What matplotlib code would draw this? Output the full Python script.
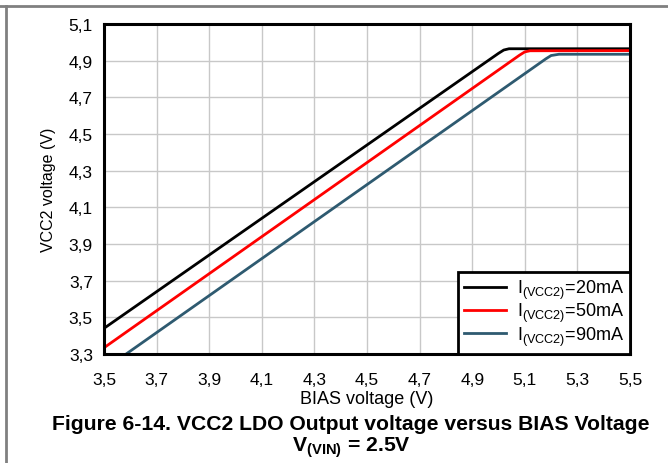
import matplotlib
matplotlib.use("Agg")
import matplotlib.pyplot as plt
from matplotlib.lines import Line2D

plt.rcParams['font.family'] = ['Liberation Sans', 'DejaVu Sans']
plt.rcParams['mathtext.fontset'] = 'custom'
plt.rcParams['mathtext.rm'] = 'Liberation Sans'
plt.rcParams['mathtext.it'] = 'Liberation Sans'
plt.rcParams['mathtext.bf'] = 'Liberation Sans:bold'

# Data
bias_20 = [3.5, 5.00, 5.02, 5.04, 5.5]
vcc2_20 = [3.44, 4.94, 4.958, 4.965, 4.965]
bias_50 = [3.5, 5.08, 5.10, 5.12, 5.5]
vcc2_50 = [3.334, 4.93, 4.948, 4.954, 4.955]
bias_90 = [3.5, 5.18, 5.20, 5.23, 5.5]
vcc2_90 = [3.215, 4.91, 4.928, 4.935, 4.935]
series_labels = [r'I$_{\rm (VCC2)}$=20mA', r'I$_{\rm (VCC2)}$=50mA', r'I$_{\rm (VCC2)}$=90mA']
colors = ['#000000', '#ff0000', '#2e5a70']
xticks = [3.5, 3.7, 3.9, 4.1, 4.3, 4.5, 4.7, 4.9, 5.1, 5.3, 5.5]
yticks = [3.3, 3.5, 3.7, 3.9, 4.1, 4.3, 4.5, 4.7, 4.9, 5.1]

fig = plt.figure(figsize=(6.68, 4.64), dpi=100)
ax = fig.add_axes([104/668, 1-355/464, (630-104)/668, (355-25)/464])

for bx, vy, c, lab in zip([bias_20, bias_50, bias_90], [vcc2_20, vcc2_50, vcc2_90], colors, series_labels):
    ax.plot(bx, vy, color=c, lw=2, label=lab, solid_joinstyle='round')

ax.set_xlim(3.5, 5.5)
ax.set_ylim(3.3, 5.1)
ax.set_xticks(xticks)
ax.set_yticks(yticks)
ax.set_xticklabels([f"{v:.1f}".replace('.', ',') for v in xticks], fontsize=12.5)
ax.set_yticklabels([f"{v:.1f}".replace('.', ',') for v in yticks], fontsize=12.5)
ax.tick_params(axis='x', length=0, pad=13)
ax.tick_params(axis='y', length=0, pad=8)
ax.grid(True, color='#c8c8c8', lw=1)
ax.set_axisbelow(True)
for s in ax.spines.values():
    s.set_linewidth(2.2)
    s.set_color('black')

ax.set_xlabel('BIAS voltage (V)', fontsize=13, labelpad=2)
ax.set_ylabel('VCC2 voltage (V)', fontsize=11.5, labelpad=9)

leg = ax.legend(loc='lower right', borderaxespad=0, fontsize=13, frameon=True,
                fancybox=False, handlelength=2.3, handletextpad=0.6,
                labelspacing=0.0, borderpad=0.35)
leg.get_frame().set_edgecolor('black')
leg.get_frame().set_linewidth(2)
leg.get_frame().set_alpha(1)

fig.text(351/668, 1-425/464, 'Figure 6-14. VCC2 LDO Output voltage versus BIAS Voltage',
         ha='center', va='center', fontsize=15.2, fontweight='bold')
fig.text(351/668, 1-448/464, r'V$_{\mathbf{(VIN)}}$ = 2.5V',
         ha='center', va='center', fontsize=15.2, fontweight='bold')

# table-like border
fig.add_artist(Line2D([0, 1], [1-7/464, 1-7/464], color='#808080', lw=2, transform=fig.transFigure))
fig.add_artist(Line2D([6/668, 6/668], [0, 1-7/464], color='#808080', lw=2, transform=fig.transFigure))

fig.savefig('out.png', dpi=100)
